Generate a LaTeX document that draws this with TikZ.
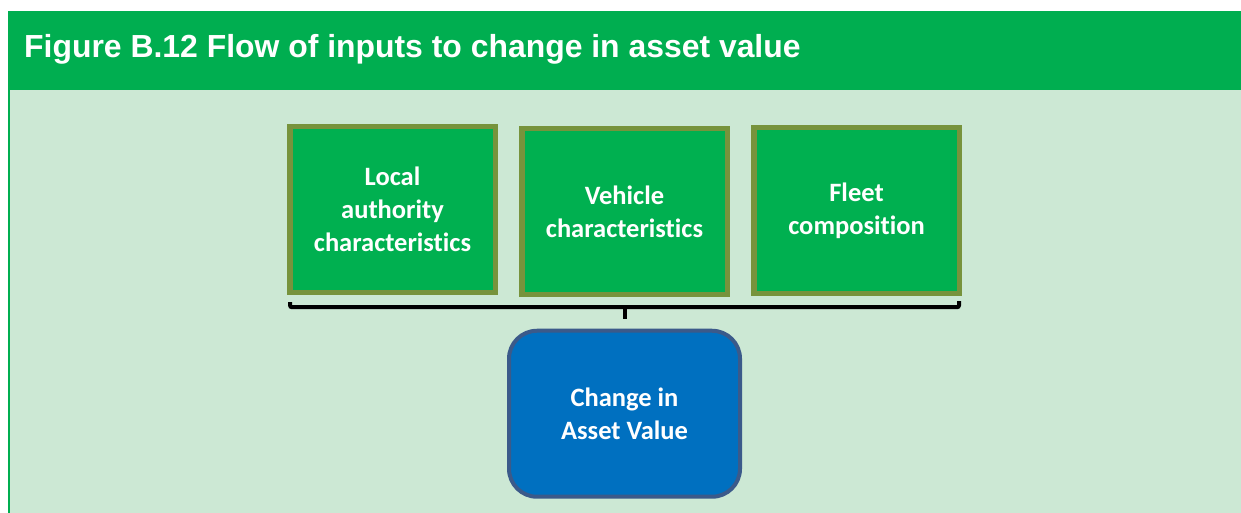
\documentclass[tikz,border=0pt]{standalone}
\usepackage{fontspec}
\setmainfont{Carlito}[Ligatures=NoCommon]
\newfontfamily\headfont{Liberation Sans}
\usetikzlibrary{positioning, calc}

\definecolor{headgreen}{HTML}{00AE50}
\definecolor{panelgreen}{HTML}{CCE8D4}
\definecolor{boxgreen}{HTML}{00B050}
\definecolor{boxolive}{HTML}{77933C}
\definecolor{valueblue}{HTML}{0070C0}
\definecolor{valueedge}{HTML}{3B5A8A}

\begin{document}
\begin{tikzpicture}[x=1pt, y=1pt, node distance=22pt]
    \tikzset{
		input/.style={draw=boxolive, fill=boxgreen, line width=5.5pt, rectangle, minimum width=205.5pt, minimum height=166pt, align=center, text=white, font=\fontsize{26.5}{33}\selectfont\bfseries},
		result/.style={draw=valueedge, fill=valueblue, line width=4pt, rectangle, rounded corners=28pt, minimum width=231pt, minimum height=166pt, align=center, text=white, font=\fontsize{26.5}{33}\selectfont\bfseries},
		brace/.style={line width=4pt, rounded corners=2pt}
	}
	\useasboundingbox (0,0) rectangle (1241,513);

	% --- Fondo y cabecera ---
	\fill[panelgreen] (8,0) rectangle (1241,423);
	\fill[headgreen] (8,423) rectangle (1241,502);
	\fill[headgreen] (8,0) rectangle (10,423);
	\node[anchor=base west, inner sep=0pt, text=white, font=\headfont\fontsize{31.9}{36}\selectfont\bfseries] (title) at (24,455.5) {Figure B.12 Flow of inputs to change in asset value};

	% --- Entradas ---
	\node [input] (local) at (392.5,303.5) {Local\\ authority\\ characteristics};
	\node [input, right=21pt of local, yshift=-2pt] (vehicle) {Vehicle\\ characteristics};
	\node [input, right=21pt of vehicle, yshift=1pt] (fleet) {Fleet\\ composition};

	% --- Llave que agrupa las entradas ---
	\coordinate (brace_l) at ($(local.south west) + (3,-7)$);
	\coordinate (brace_r) at ($(fleet.south east) + (-3,-5)$);
	\coordinate (brace_m) at ($(brace_l)!0.5!(brace_r) + (0,-5)$);
	\coordinate (brace_tip) at ($(brace_m) + (0,-12)$);
	\draw[brace] (brace_l) -- ++(0,-5) -| (brace_r);
	\draw[brace] (brace_m) -- (brace_tip);

	% --- Resultado ---
	\node [result, below=10pt of brace_tip] (value) {Change in\\ Asset Value};
\end{tikzpicture}
\end{document}
